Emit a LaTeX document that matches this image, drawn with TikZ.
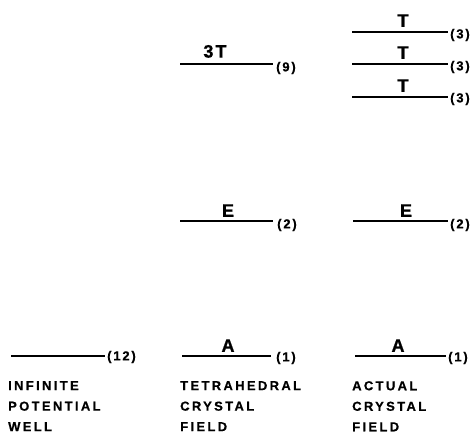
\documentclass[tikz,border=0pt]{standalone}
\usepackage{fontspec}
\setmainfont{Liberation Sans}
\newfontfamily\labfont{Liberation Sans Bold}[LetterSpace=18,FakeBold=0.6]
\newfontfamily\numfont{Liberation Sans Bold}[LetterSpace=14,FakeBold=0.6]
\newfontfamily\symfont{Liberation Sans Bold}[LetterSpace=12,FakeBold=0.8]
\begin{document}
\begin{tikzpicture}[x=1pt,y=-1pt,
  level/.style={line width=1.9pt},
  sym/.style={font=\fontsize{18}{18}\selectfont\symfont, inner sep=0pt, anchor=south},
  deg/.style={font=\fontsize{13}{13}\selectfont\numfont, inner sep=0pt, anchor=west},
  caption/.style={font=\fontsize{13}{20.5}\selectfont\labfont, inner sep=0pt, anchor=north west, align=left}]
\useasboundingbox (0,0) rectangle (476,433);
% infinite well
\coordinate (w1) at (11,356); \coordinate (w2) at (105,356);
\draw[level] (w1) -- (w2);
\node[deg] (wd) at (107,357) {(12)};
% tetrahedral
\coordinate (t3a) at (180,64); \coordinate (t3b) at (273,64);
\draw[level] (t3a) -- (t3b);
\node[sym] (t3l) at (215,58) {3T};
\node[deg] (t3d) at (276,68) {(9)};
\coordinate (tea) at (180,221); \coordinate (teb) at (273,221);
\draw[level] (tea) -- (teb);
\node[sym] (tel) at (228,217) {E};
\node[deg] (ted) at (277,225) {(2)};
\coordinate (taa) at (182,356); \coordinate (tab) at (271,356);
\draw[level] (taa) -- (tab);
\node[sym] (tal) at (228,352) {A};
\node[deg] (tad) at (276,358) {(1)};
% actual
\coordinate (a1a) at (352,32); \coordinate (a1b) at (448,32);
\draw[level] (a1a) -- (a1b);
\node[sym] (a1l) at (403,27) {T};
\node[deg] (a1d) at (450,35) {(3)};
\coordinate (a2a) at (352,64); \coordinate (a2b) at (448,64);
\draw[level] (a2a) -- (a2b);
\node[sym] (a2l) at (403,59) {T};
\node[deg] (a2d) at (450,67) {(3)};
\coordinate (a3a) at (352,97); \coordinate (a3b) at (448,97);
\draw[level] (a3a) -- (a3b);
\node[sym] (a3l) at (403,92) {T};
\node[deg] (a3d) at (450,99) {(3)};
\coordinate (aea) at (353,221); \coordinate (aeb) at (448,221);
\draw[level] (aea) -- (aeb);
\node[sym] (ael) at (406,217) {E};
\node[deg] (aed) at (450,225) {(2)};
\coordinate (aaa) at (355,356); \coordinate (aab) at (446,356);
\draw[level] (aaa) -- (aab);
\node[sym] (aal) at (398,352) {A};
\node[deg] (aad) at (448,358) {(1)};
% captions
\node[caption] (c1) at (8,381) {INFINITE\\POTENTIAL\\WELL};
\node[caption] (c2) at (180,381) {TETRAHEDRAL\\CRYSTAL\\FIELD};
\node[caption] (c3) at (352,381) {ACTUAL\\CRYSTAL\\FIELD};
\end{tikzpicture}
\end{document}
